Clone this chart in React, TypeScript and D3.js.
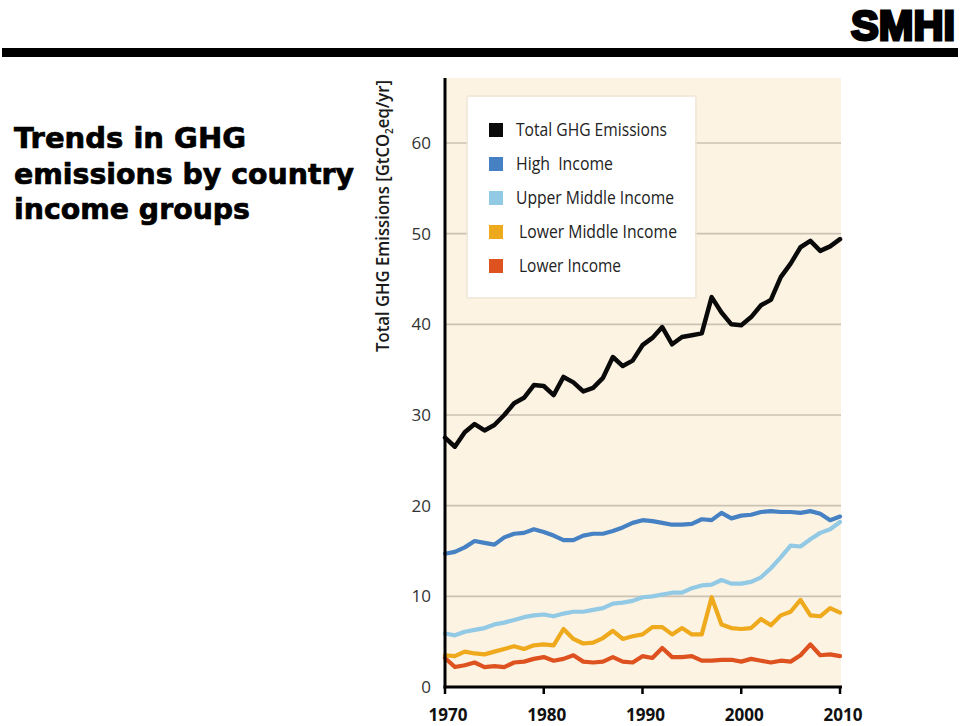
import React from "react";
import * as d3 from "d3";

const years: number[] = d3.range(1970, 2011);

const totalGHG = [27.5, 26.5, 28.1, 29.0, 28.3, 28.9, 30.0, 31.3, 31.9, 33.3, 33.2, 32.2, 34.2, 33.6, 32.6, 33.0, 34.1, 36.4, 35.4, 36.0, 37.7, 38.5, 39.7, 37.8, 38.6, 38.8, 39.0, 43.0, 41.3, 40.0, 39.9, 40.8, 42.1, 42.7, 45.2, 46.7, 48.5, 49.2, 48.1, 48.6, 49.4];
const highIncome = [14.7, 14.9, 15.4, 16.1, 15.9, 15.7, 16.5, 16.9, 17.0, 17.4, 17.1, 16.7, 16.2, 16.2, 16.7, 16.9, 16.9, 17.2, 17.6, 18.1, 18.4, 18.3, 18.1, 17.9, 17.9, 18.0, 18.5, 18.4, 19.2, 18.6, 18.9, 19.0, 19.3, 19.4, 19.3, 19.3, 19.2, 19.4, 19.1, 18.4, 18.8];
const upperMiddle = [5.9, 5.7, 6.1, 6.3, 6.5, 6.9, 7.1, 7.4, 7.7, 7.9, 8.0, 7.8, 8.1, 8.3, 8.3, 8.5, 8.7, 9.2, 9.3, 9.5, 9.9, 10.0, 10.2, 10.4, 10.4, 10.9, 11.2, 11.3, 11.8, 11.4, 11.4, 11.6, 12.1, 13.1, 14.3, 15.6, 15.5, 16.3, 17.0, 17.4, 18.2];
const lowerMiddle = [3.5, 3.4, 3.9, 3.7, 3.6, 3.9, 4.2, 4.5, 4.2, 4.6, 4.7, 4.6, 6.4, 5.3, 4.8, 4.9, 5.4, 6.2, 5.3, 5.6, 5.8, 6.6, 6.6, 5.8, 6.5, 5.8, 5.8, 9.9, 6.9, 6.5, 6.4, 6.5, 7.5, 6.8, 7.9, 8.3, 9.6, 7.9, 7.8, 8.7, 8.2];
const lowerIncome = [3.2, 2.2, 2.4, 2.7, 2.2, 2.3, 2.2, 2.7, 2.8, 3.1, 3.3, 2.9, 3.1, 3.5, 2.8, 2.7, 2.8, 3.3, 2.8, 2.7, 3.4, 3.2, 4.3, 3.3, 3.3, 3.4, 2.9, 2.9, 3.0, 3.0, 2.8, 3.1, 2.9, 2.7, 2.9, 2.8, 3.5, 4.7, 3.5, 3.6, 3.4];

const seriesNames = ["Total GHG Emissions", "High  Income", "Upper Middle Income", "Lower Middle Income", "Lower Income"];
const seriesColors = ["#0a0a0a", "#4581c3", "#92c9e5", "#eeaa1c", "#de5220"];
const seriesData = [totalGHG, highIncome, upperMiddle, lowerMiddle, lowerIncome];

const yTicks = [0, 10, 20, 30, 40, 50, 60];
const xTicks = [1970, 1980, 1990, 2000, 2010];
const titleLines = ["Trends in GHG", "emissions by country", "income groups"];

export default function App() {
  const x = d3.scaleLinear().domain([1970, 2010]).range([445, 840]);
  const y = d3.scaleLinear().domain([0, 60]).range([687, 143]);
  const line = d3
    .line<number>()
    .x((_, i) => x(years[i]))
    .y((d) => y(d))
    .curve(d3.curveLinear);

  const plotLeft = 445;
  const plotRight = 841;
  const plotTop = 78;
  const plotBottom = 687;

  const legendX = 468;
  const legendY = 97;
  const legendTextX = [516, 516, 516, 519, 519];
  const legendTextW = [151, 97, 158, 158, 102];
  const titleW = [232, 340, 236];

  return (
    <svg
      width={960}
      height={726}
      style={{ position: "absolute", left: 0, top: 0, background: "#fff" }}
      xmlns="http://www.w3.org/2000/svg"
    >
      {/* Top bar */}
      <rect x={2} y={48} width={956} height={9} fill="#000" />

      {/* Logo */}
      <text
        x={955}
        y={39.5}
        textAnchor="end"
        fontFamily="'Liberation Sans Narrow','Liberation Sans',Arial,sans-serif"
        fontWeight={700}
        fontSize={42}
        fill="#000"
        stroke="#000"
        strokeWidth={3}
        textLength={104}
        lengthAdjust="spacingAndGlyphs"
      >
        SMHI
      </text>

      {/* Title */}
      {titleLines.map((t, i) => (
        <text
          key={t}
          x={14}
          y={148 + i * 35.5}
          fontFamily="'DejaVu Sans',sans-serif"
          fontWeight={700}
          fontSize={28}
          fill="#000"
          stroke="#000"
          strokeWidth={0.7}
          textLength={titleW[i]}
          lengthAdjust="spacingAndGlyphs"
        >
          {t}
        </text>
      ))}

      {/* Plot background */}
      <rect x={plotLeft} y={plotTop} width={plotRight - plotLeft} height={plotBottom - plotTop} fill="#fdf3e3" />

      {/* Gridlines */}
      {yTicks
        .filter((t) => t > 0)
        .map((t) => (
          <line key={t} x1={plotLeft} x2={plotRight} y1={y(t)} y2={y(t)} stroke="#cbc2b4" strokeWidth={1.6} />
        ))}

      {/* Y tick labels */}
      {yTicks.map((t) => (
        <text
          key={t}
          x={431}
          y={y(t) + 6}
          textAnchor="end"
          fontFamily="'Open Sans',sans-serif"
          fontSize={17}
          fill="#333"
        >
          {t}
        </text>
      ))}

      {/* Y axis title */}
      <text
        transform={`translate(389,216) rotate(-90)`}
        textAnchor="middle"
        fontFamily="'Open Sans',sans-serif"
        fontWeight={600}
        fontSize={18.5}
        fill="#1a1a1a"
        textLength={272}
        lengthAdjust="spacingAndGlyphs"
      >
        Total GHG Emissions [GtCO
        <tspan fontSize={11} dy={4}>2</tspan>
        <tspan dy={-4}>eq/yr]</tspan>
      </text>

      {/* Series lines */}
      {seriesData
        .map((d, i) => ({ d, i }))
        .reverse()
        .map(({ d, i }) => (
          <path
            key={i}
            d={line(d) || ""}
            fill="none"
            stroke={seriesColors[i]}
            strokeWidth={i === 0 ? 4.5 : 4.2}
            strokeLinejoin="round"
            strokeLinecap="round"
          />
        ))}

      {/* Axes */}
      <line x1={445} x2={445} y1={plotTop} y2={plotBottom + 1.5} stroke="#000" strokeWidth={3} />
      <line x1={443.5} x2={842} y1={plotBottom} y2={plotBottom} stroke="#000" strokeWidth={3} />
      {xTicks.map((t) => (
        <line key={t} x1={x(t)} x2={x(t)} y1={plotBottom} y2={plotBottom + 7} stroke="#000" strokeWidth={2.5} />
      ))}
      {xTicks.map((t) => (
        <text
          key={t}
          x={x(t) + 3}
          y={721}
          textAnchor="middle"
          fontFamily="'Open Sans',sans-serif"
          fontWeight={700}
          fontSize={18}
          fill="#111"
          textLength={39}
          lengthAdjust="spacingAndGlyphs"
        >
          {t}
        </text>
      ))}

      {/* Legend */}
      <rect x={legendX - 2} y={legendY - 2} width={231} height={204} fill="#efe6d8" opacity={0.7} rx={2} />
      <rect x={legendX} y={legendY} width={227} height={200} fill="#fff" />
      {seriesNames.map((n, i) => (
        <g key={n}>
          <rect x={489} y={123 + i * 34} width={14} height={14} fill={seriesColors[i]} />
          <text
            x={legendTextX[i]}
            y={136 + i * 34}
            fontFamily="'Open Sans',sans-serif"
            fontSize={18}
            fill="#222"
            textLength={legendTextW[i]}
            lengthAdjust="spacingAndGlyphs"
            style={{ whiteSpace: "pre" }}
          >
            {n}
          </text>
        </g>
      ))}
    </svg>
  );
}
